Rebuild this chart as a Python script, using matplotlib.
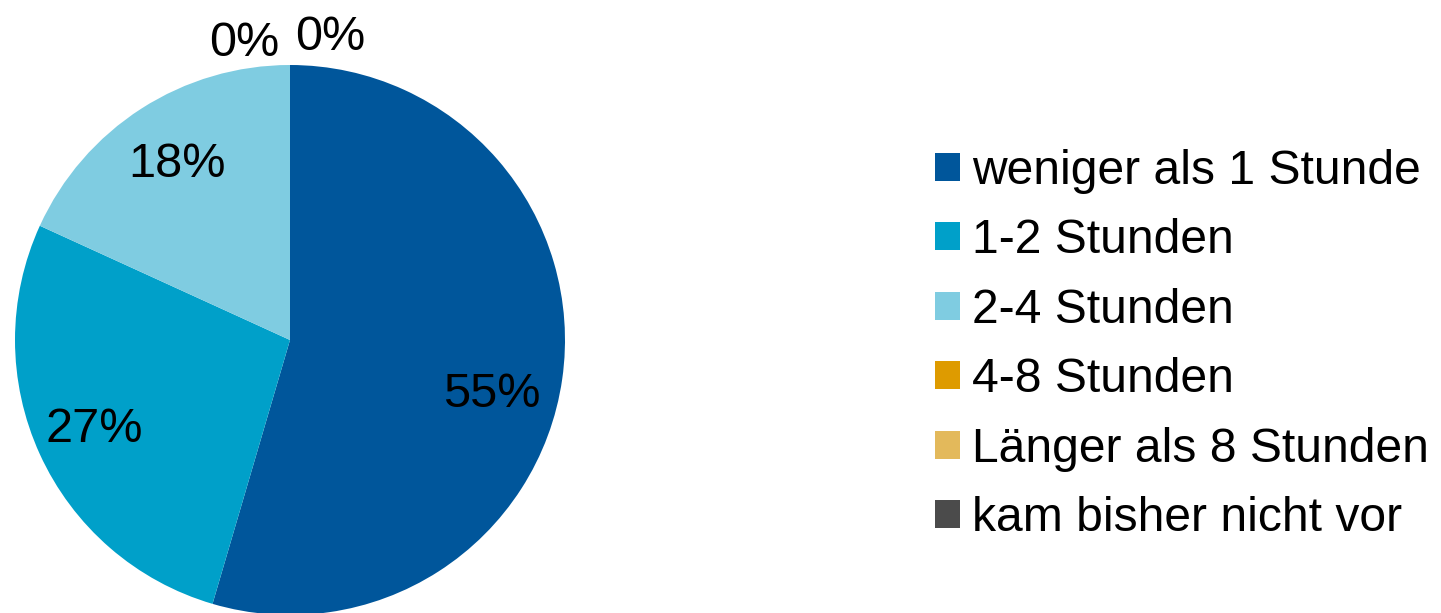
import numpy as np
import matplotlib
matplotlib.use('Agg')
import matplotlib.pyplot as plt
from matplotlib.patches import Patch

plt.rcParams['font.family'] = ['Liberation Sans', 'DejaVu Sans']

categories = ['weniger als 1 Stunde', '1-2 Stunden', '2-4 Stunden',
              '4-8 Stunden', 'Länger als 8 Stunden', 'kam bisher nicht vor']
counts = [6, 3, 2, 0, 0, 0]
colors = ['#00569B', '#00A0C9', '#7FCCE1', '#DE9B00', '#E3B95B', '#4B4B4B']


def pct_label(v):
    return '%d%%' % round(v)


fig = plt.figure(figsize=(14.41, 6.13), dpi=100)
ax = fig.add_axes([15 / 1441, -2 / 613, 550 / 1441, 550 / 613])

wedges, texts, autotexts = ax.pie(counts, colors=colors, startangle=90,
                                  counterclock=False, radius=1,
                                  autopct=pct_label, pctdistance=0.76,
                                  textprops={'fontsize': 35, 'color': 'black'})
ax.set_xlim(-1, 1)
ax.set_ylim(-1, 1)
ax.set_aspect('equal')

# nudge the big slice label a bit lower, as in the original
x0, y0 = autotexts[0].get_position()
autotexts[0].set_position((x0 - 0.02, y0 - 0.09))
x2, y2 = autotexts[1].get_position()
autotexts[1].set_position((x2 - 0.02, y2 - 0.01))

# zero slices sit at the top; spread their labels like the original
zero_offsets = [-0.165, 0.145, None]
zero_heights = [1.08, 1.10, None]
k = 0
for v, t in zip(counts, autotexts):
    if v == 0:
        if zero_offsets[k] is None:
            t.set_visible(False)
        else:
            t.set_position((zero_offsets[k], zero_heights[k]))
        k += 1

handles = [Patch(facecolor=c, edgecolor='none') for c in colors]
fig.legend(handles, categories, loc='center left',
           bbox_to_anchor=(916 / 1441, 1 - 345 / 613),
           frameon=False, fontsize=34.6, handlelength=0.52, handleheight=0.52,
           handletextpad=0.25, labelspacing=0.51, borderaxespad=0)

fig.savefig('out.png', dpi=100)
